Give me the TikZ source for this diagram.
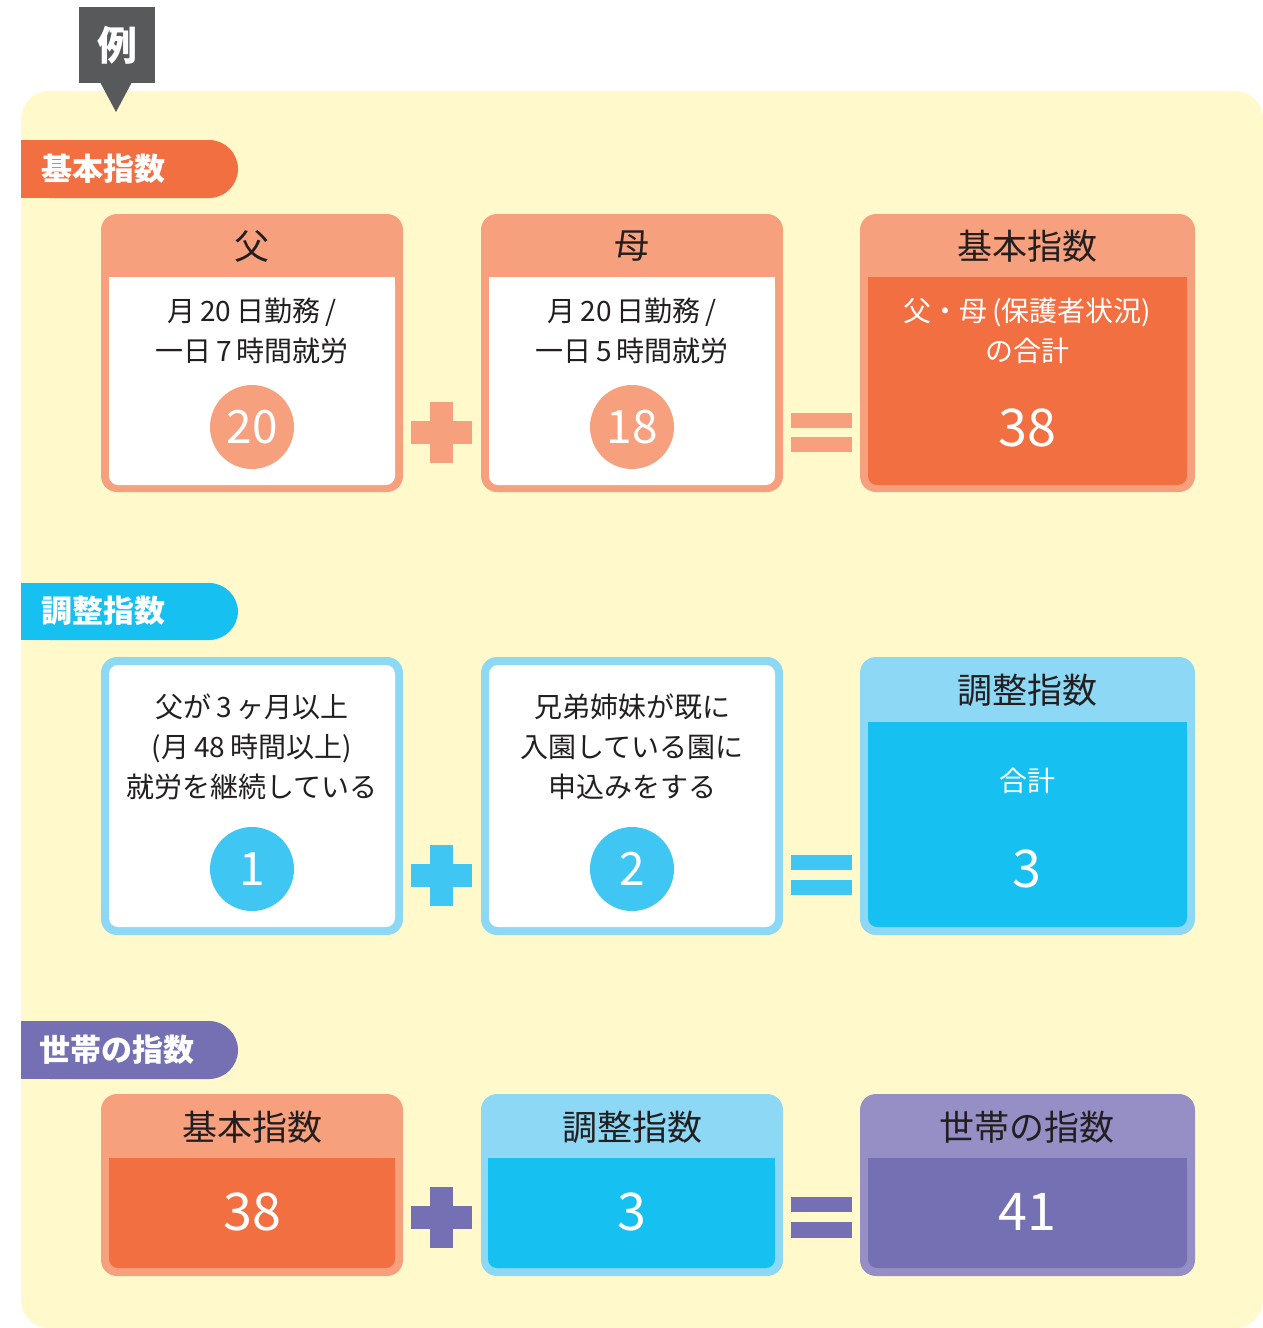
\documentclass[tikz,border=0pt]{standalone}
\usepackage{fontspec}
\setmainfont{Noto Sans CJK JP}
\definecolor{bgy}{HTML}{FFF9CC}
\definecolor{tagg}{HTML}{58595B}
\definecolor{ink}{HTML}{231F20}
\definecolor{org}{HTML}{F26F41}
\definecolor{sal}{HTML}{F6A07E}
\definecolor{cyn}{HTML}{16C0F0}
\definecolor{lbl}{HTML}{8DD8F5}
\definecolor{cbl}{HTML}{40C6F2}
\definecolor{pur}{HTML}{7570B3}
\definecolor{lpur}{HTML}{968FC5}
\newcommand\gapsp{\hspace{5pt}}
\begin{document}
\begin{tikzpicture}[x=1pt,y=-1pt,
  hdr/.style={font=\fontsize{35}{40}\selectfont, text=ink, inner sep=0pt},
  body/.style={font=\fontsize{28}{40}\selectfont, text=ink, align=center, inner sep=0pt},
  wbody/.style={body, text=white},
  numc/.style={circle, minimum size=84pt, inner sep=0pt, text=white, font=\fontsize{46}{46}\selectfont},
  bignum/.style={text=white, font=\fontsize{52}{52}\selectfont, inner sep=0pt},
  band/.style={text=white, font=\fontsize{31}{36}\selectfont\bfseries, inner sep=0pt, anchor=west},
  outer/.style={rounded corners=16},
  inner/.style={rounded corners=9}]
\useasboundingbox (0,0) rectangle (1263,1328);
% background
\fill[bgy, rounded corners=28] (21,91) rectangle (1263,1328);
% tag
\fill[tagg] (79,7) rectangle (155,83);
\fill[tagg] (100,82) -- (132,82) -- (116,112) -- cycle;
\node[text=white, font=\fontsize{40}{40}\selectfont\bfseries, inner sep=0pt] (tag) at (117,45) {例};

% ===== section bands =====
\fill[org, rounded corners=29] (21,140) rectangle (238,198);
\fill[org] (21,140) rectangle (120,198);
\node[band] (b1) at (41,169) {基本指数};
\fill[cyn, rounded corners=29] (21,583) rectangle (238,640);
\fill[cyn] (21,583) rectangle (120,640);
\node[band] (b2) at (41,611) {調整指数};
\fill[pur, rounded corners=29] (21,1021) rectangle (238,1079);
\fill[pur] (21,1021) rectangle (120,1079);
\node[band] (b3) at (39,1050) {世帯の指数};

% ===== row 1 =====
% father
\fill[sal, outer] (101,214) rectangle (403,492);
\fill[white, inner] (109,277) rectangle (395,485);
\fill[white] (109,277) rectangle (395,295);
\node[hdr] (fh) at (252,246) {父};
\node[body] (ft) at (252,331) {月\gapsp{}20\gapsp{}日勤務\gapsp{}/\\一日\gapsp{}7\gapsp{}時間就労};
\node[numc, fill=sal] (fc) at (252,427) {20};
% mother
\fill[sal, outer] (481,214) rectangle (783,492);
\fill[white, inner] (489,277) rectangle (775,485);
\fill[white] (489,277) rectangle (775,295);
\node[hdr] (mh) at (632,246) {母};
\node[body] (mt) at (632,331) {月\gapsp{}20\gapsp{}日勤務\gapsp{}/\\一日\gapsp{}5\gapsp{}時間就労};
\node[numc, fill=sal] (mc) at (632,427) {18};
% basic total
\fill[sal, outer] (860,214) rectangle (1195,492);
\fill[org, inner] (868,277) rectangle (1187,485);
\fill[org] (868,277) rectangle (1187,295);
\node[hdr] (kh) at (1027,246) {基本指数};
\node[wbody] (kt) at (1027,331) {父・母\gapsp{}(保護者状況)\\の合計};
\node[bignum] (kn) at (1027,428) {38};
% operators
\fill[sal] (411,421) rectangle (472,444);
\fill[sal] (430,402) rectangle (453,463);
\fill[sal] (791,413) rectangle (852,428);
\fill[sal] (791,437) rectangle (852,452);

% ===== row 2 =====
\fill[lbl, outer] (101,657) rectangle (403,935);
\fill[white, inner] (109,665) rectangle (395,927);
\node[body] (at) at (252,747) {父が\gapsp{}3\gapsp{}ヶ月以上\\(月\gapsp{}48\gapsp{}時間以上)\\就労を継続している};
\node[numc, fill=cbl] (ac) at (252,869) {1};
\fill[lbl, outer] (481,657) rectangle (783,935);
\fill[white, inner] (489,665) rectangle (775,927);
\node[body] (bt) at (632,747) {兄弟姉妹が既に\\入園している園に\\申込みをする};
\node[numc, fill=cbl] (bc) at (632,869) {2};
\fill[lbl, outer] (860,657) rectangle (1195,935);
\fill[cyn, inner] (868,722) rectangle (1187,927);
\fill[cyn] (868,722) rectangle (1187,740);
\node[hdr] (ch) at (1027,690) {調整指数};
\node[wbody] (ct) at (1027,781) {合計};
\node[bignum] (cn) at (1027,869) {3};
\fill[cbl] (411,864) rectangle (472,887);
\fill[cbl] (430,845) rectangle (453,906);
\fill[cbl] (791,855) rectangle (852,870);
\fill[cbl] (791,880) rectangle (852,895);

% ===== row 3 =====
\fill[sal, outer] (101,1094) rectangle (403,1276);
\fill[org, inner] (109,1158) rectangle (395,1268);
\fill[org] (109,1158) rectangle (395,1175);
\node[hdr] (sh1) at (252,1127) {基本指数};
\node[bignum] (sn1) at (252,1212) {38};
\fill[lbl, outer] (481,1094) rectangle (783,1276);
\fill[cyn, inner] (488,1158) rectangle (775,1268);
\fill[cyn] (488,1158) rectangle (775,1175);
\node[hdr] (sh2) at (632,1127) {調整指数};
\node[bignum] (sn2) at (632,1212) {3};
\fill[lpur, outer] (860,1094) rectangle (1195,1276);
\fill[pur, inner] (868,1158) rectangle (1187,1268);
\fill[pur] (868,1158) rectangle (1187,1175);
\node[hdr] (sh3) at (1027,1127) {世帯の指数};
\node[bignum] (sn3) at (1027,1212) {41};
\fill[pur] (411,1206) rectangle (472,1229);
\fill[pur] (430,1187) rectangle (453,1248);
\fill[pur] (791,1197) rectangle (852,1212);
\fill[pur] (791,1222) rectangle (852,1238);
\end{tikzpicture}
\end{document}
